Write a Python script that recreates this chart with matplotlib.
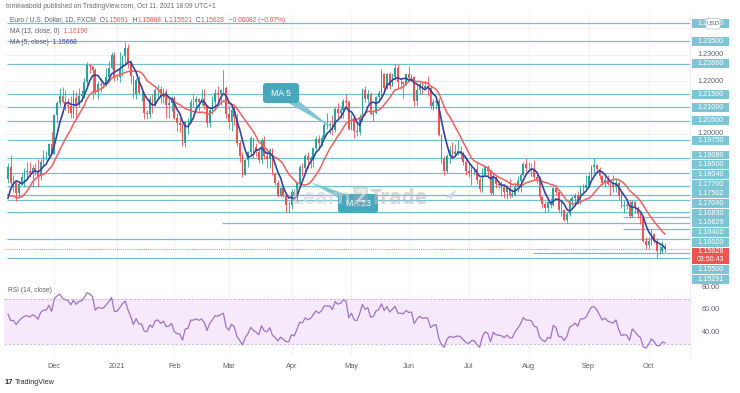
import numpy as np
import pandas as pd
import matplotlib
matplotlib.use("Agg")
import matplotlib.pyplot as plt
from matplotlib.patches import Rectangle, FancyBboxPatch, Polygon
from matplotlib.transforms import IdentityTransform

# ------------------------------------------------------------------ data
start_date = "2020-11-06"
end_date = "2021-10-11"

# closes used only to warm up the indicators (Sep 24 - Nov 5 2020), pips
warmup_closes = [11670, 11630, 11665, 11745, 11720, 11750, 11715, 11780, 11735, 11760,
                 11765, 11825, 11815, 11745, 11745, 11705, 11720, 11770, 11820, 11860,
                 11815, 11860, 11810, 11795, 11745, 11675, 11645, 11640, 11715, 11720, 11830]

closes = [
    11875, 11815, 11815, 11775, 11810, 11835, 11855, 11860, 11850, 11870, 11860, 11840, 11895, 11915, 11915, 11960, 11925,
    12070, 12115, 12145, 12120, 12110, 12105, 12080, 12135, 12110, 12145, 12150, 12195, 12260, 12255, 12240, 12160, 12190, 12185, 12185, 12215, 12250, 12300, 12215,
    12215, 12250, 12295, 12325, 12270, 12220, 12150, 12205, 12155, 12155, 12080, 12075, 12130, 12105, 12165, 12170, 12140, 12160, 12110, 12115, 12135,
    12060, 12040, 12035, 11965, 12045, 12050, 12120, 12120, 12130, 12120, 12130, 12105, 12040, 12090, 12120, 12155, 12150, 12165, 12175, 12075,
    12045, 12090, 12065, 11965, 11915, 11845, 11900, 11930, 11985, 11950, 11930, 11900, 11975, 11915, 11905, 11940, 11850, 11815, 11765, 11795, 11765, 11730, 11730,
    11780, 11765, 11815, 11875, 11870, 11915, 11900, 11910, 11945, 11980, 11965, 11985, 12035, 12035, 12035, 12015, 12095, 12080, 12090, 12125, 12120, 12020,
    12060, 12010, 12005, 12065, 12165, 12130, 12150, 12075, 12080, 12140, 12155, 12225, 12175, 12225, 12180, 12215, 12250, 12195, 12195, 12190, 12225,
    12210, 12215, 12125, 12165, 12190, 12175, 12180, 12175, 12105, 12120, 12125, 11995, 11905, 11860, 11915, 11940, 11925, 11930, 11935, 11925, 11895, 11860,
    11850, 11865, 11865, 11825, 11790, 11845, 11875, 11860, 11775, 11835, 11810, 11805, 11800, 11780, 11795, 11770, 11770, 11800, 11820, 11845, 11885, 11870,
    11870, 11865, 11835, 11830, 11760, 11735, 11720, 11740, 11730, 11795, 11780, 11710, 11710, 11675, 11695, 11745, 11755, 11770, 11750, 11795, 11795, 11805,
    11840, 11875, 11880, 11865, 11840, 11815, 11825, 11810, 11805, 11800, 11815, 11765, 11725, 11730, 11725, 11690, 11740, 11720, 11695, 11680, 11595, 11580,
    11595, 11620, 11595, 11555, 11555, 11570, 11562.8,
]
highs = [
    11891, 11920, 11845, 11820, 11817, 11850, 11870, 11895, 11895, 11880, 11890, 11905, 11905, 11940, 11935, 11965, 12005,
    12075, 12125, 12175, 12178, 12165, 12135, 12145, 12165, 12160, 12175, 12165, 12210, 12273, 12270, 12255, 12250, 12200, 12210, 12195, 12250, 12275, 12310, 12310,
    12225, 12310, 12300, 12349, 12340, 12280, 12210, 12210, 12220, 12170, 12160, 12090, 12145, 12150, 12175, 12190, 12180, 12175, 12170, 12135, 12145,
    12145, 12080, 12065, 12040, 12050, 12060, 12130, 12150, 12145, 12135, 12170, 12170, 12110, 12095, 12145, 12170, 12180, 12170, 12243, 12180,
    12110, 12110, 12110, 12080, 11975, 11930, 11905, 11935, 11990, 11985, 11965, 11950, 11985, 11990, 11945, 11945, 11945, 11850, 11825, 11800, 11800, 11775, 11745,
    11790, 11790, 11820, 11880, 11890, 11925, 11930, 11915, 11950, 11990, 11995, 11995, 12050, 12080, 12045, 12070, 12100, 12115, 12105, 12130, 12150, 12125,
    12075, 12065, 12040, 12075, 12175, 12180, 12165, 12160, 12090, 12145, 12165, 12245, 12230, 12230, 12235, 12230, 12266, 12265, 12205, 12200, 12230,
    12255, 12225, 12220, 12185, 12195, 12195, 12200, 12220, 12180, 12130, 12135, 12135, 12000, 11915, 11925, 11955, 11970, 11960, 11975, 11955, 11935, 11905,
    11895, 11880, 11870, 11895, 11835, 11870, 11880, 11880, 11865, 11850, 11845, 11820, 11820, 11805, 11805, 11830, 11790, 11815, 11840, 11850, 11895, 11909,
    11895, 11890, 11900, 11850, 11840, 11765, 11745, 11745, 11755, 11800, 11805, 11785, 11745, 11715, 11705, 11755, 11765, 11775, 11785, 11805, 11810, 11845,
    11855, 11880, 11909, 11885, 11875, 11845, 11845, 11845, 11815, 11845, 11830, 11820, 11780, 11750, 11745, 11750, 11750, 11745, 11725, 11700, 11685, 11610,
    11610, 11640, 11625, 11605, 11580, 11595, 11587,
]
lows = [
    11815, 11803, 11780, 11745, 11760, 11805, 11800, 11825, 11835, 11800, 11845, 11800, 11825, 11880, 11900, 11905, 11925,
    11925, 12040, 12105, 12115, 12090, 12080, 12060, 12060, 12060, 12100, 12125, 12135, 12185, 12230, 12130, 12150, 12130, 12160, 12175, 12180, 12205, 12245, 12200,
    12205, 12195, 12220, 12265, 12250, 12190, 12135, 12130, 12150, 12125, 12055, 12055, 12060, 12080, 12105, 12130, 12115, 12115, 12060, 12060, 12085,
    12055, 12010, 12005, 11955, 11950, 12000, 12040, 12100, 12100, 12085, 12110, 12095, 12025, 12025, 12075, 12090, 12120, 12110, 12160, 12060,
    12020, 12010, 12035, 11955, 11895, 11835, 11845, 11875, 11920, 11910, 11915, 11890, 11885, 11905, 11870, 11870, 11845, 11805, 11760, 11760, 11760, 11705, 11704,
    11715, 11745, 11740, 11810, 11840, 11860, 11870, 11870, 11875, 11940, 11950, 11955, 11985, 12020, 12000, 11995, 12005, 12060, 12060, 12060, 12105, 12015,
    12015, 11985, 11990, 11995, 12050, 12120, 12115, 12070, 12050, 12075, 12120, 12145, 12160, 12170, 12170, 12180, 12205, 12175, 12170, 12135, 12185,
    12200, 12195, 12105, 12105, 12150, 12150, 12170, 12145, 12095, 12090, 12095, 11990, 11890, 11845, 11850, 11890, 11905, 11915, 11920, 11905, 11880, 11845,
    11835, 11805, 11845, 11810, 11780, 11780, 11840, 11835, 11770, 11770, 11795, 11795, 11765, 11755, 11752, 11755, 11760, 11765, 11780, 11780, 11840, 11855,
    11865, 11840, 11825, 11815, 11750, 11720, 11705, 11705, 11720, 11725, 11770, 11705, 11690, 11670, 11664, 11690, 11725, 11725, 11735, 11735, 11780, 11795,
    11800, 11830, 11850, 11855, 11830, 11805, 11800, 11805, 11770, 11780, 11780, 11750, 11720, 11700, 11715, 11680, 11685, 11700, 11680, 11660, 11590, 11565,
    11565, 11580, 11585, 11529, 11545, 11550, 11552,
]

levels = [1.24180, 1.23500, 1.22660, 1.21500, 1.21000, 1.20500, 1.19750, 1.19080, 1.18500,
          1.18040, 1.17700, 1.17502, 1.17040, 1.16830, 1.16629, 1.16400, 1.16020, 1.15500, 1.15291]
level_starts = ["2020-11-06", "2020-11-06", "2020-11-06", "2020-11-06", "2020-11-06", "2020-11-06",
                "2020-11-06", "2020-11-06", "2020-11-06", "2020-11-06", "2020-11-06", "2020-11-06",
                "2020-11-06", "2021-09-20", "2021-02-25", "2021-09-20", "2020-11-06", "2021-08-04", "2020-11-06"]

month_labels = ["Dec", "2021", "Feb", "Mar", "Apr", "May", "Jun", "Jul", "Aug", "Sep", "Oct"]
price_ticks = [1.16, 1.17, 1.18, 1.19, 1.20, 1.21, 1.22, 1.23, 1.24]
rsi_ticks = [40, 60, 80]

publish_text = "tomkwabold published on TradingView.com, Oct 11, 2021 18:09 UTC+1"
symbol_text = "Euro / U.S. Dollar, 1D, FXCM"
ohlc_text = [("O", "1.15691"), ("H", "1.15868"), ("L", "1.15521"), ("C", "1.15628")]
change_text = "\u22120.00082 (\u22120.07%)"
ma13_text, ma13_val = "MA (13, close, 0)", "1.16196"
ma5_text, ma5_val = "MA (5, close)", "1.15668"
rsi_text, rsi_val = "RSI (14, close)", "32.14"
countdown = "03:50:43"
ma5_callout_date = "2021-04-22"
ma13_callout_date = "2021-04-12"

# ------------------------------------------------------------------ style
UP, DN = "#26a69a", "#ef5350"
MA13_C, MA5_C = "#f0615c", "#3543a3"
LEVEL_C = "#72bfd0"
LABEL_BG = "#7cc5d5"
RSI_C = "#9f72cc"
TXT = "#5d606b"
GRID = "#f0f2f7"
CALL_BOX, CALL_WEDGE = "#47a8bc", "#7fc4d3"

plt.rcParams["font.family"] = ["Liberation Sans", "DejaVu Sans"]

W, H = 740, 393
fig = plt.figure(figsize=(W / 100, H / 100), dpi=100)
fig.patch.set_facecolor("white")
ID = IdentityTransform()

PL, PR = 4, 690
P_TOP, P_BOT, R_BOT = 14, 270, 357
X_FIRST, X_LAST = 8, 665
LBL_L, LBL_R = 692, 729


def rect(l, t, r, b):
    return [l / W, 1 - b / H, (r - l) / W, (b - t) / H]


ax = fig.add_axes(rect(PL, P_TOP, PR, P_BOT))
axr = fig.add_axes(rect(PL, P_BOT, PR, R_BOT))

dates = pd.bdate_range(start_date, end_date)
n = len(dates)
assert len(closes) == len(highs) == len(lows) == n, (len(closes), len(highs), len(lows), n)

step = (X_LAST - X_FIRST) / (n - 1)
xmin = -(X_FIRST - PL) / step
xmax = xmin + (PR - PL) / step
for a in (ax, axr):
    a.set_xlim(xmin, xmax)
    a.set_facecolor("white")
    for s in a.spines.values():
        s.set_visible(False)
    a.set_xticks([])
    a.set_yticks([])
ax.set_ylim(1.14841, 1.24538)
axr.set_ylim(19.1, 94.8)

c = np.array(closes, dtype=float) / 1e4
h = np.array(highs, dtype=float) / 1e4
l = np.array(lows, dtype=float) / 1e4
o = np.concatenate([[warmup_closes[-1] / 1e4], c[:-1]])
idx = np.arange(n)

allc = pd.Series(np.concatenate([np.array(warmup_closes, dtype=float) / 1e4, c]))
ma13 = allc.rolling(13).mean().values[-n:]
ma5 = allc.rolling(5).mean().values[-n:]
d = allc.diff()
gain = d.clip(lower=0).ewm(alpha=1 / 14, adjust=False).mean()
loss = (-d.clip(upper=0)).ewm(alpha=1 / 14, adjust=False).mean()
rsi = (100 - 100 / (1 + gain / loss)).values[-n:]

per = dates.to_period("M")
firsts = [i for i in range(1, n) if per[i] != per[i - 1]]

# grid
for a in (ax, axr):
    for i in firsts:
        a.axvline(i, color=GRID, lw=0.7, zorder=0)
for v in price_ticks:
    ax.axhline(v, color=GRID, lw=0.7, zorder=0)

# level lines
for lv, sd in zip(levels, level_starts):
    s = dates.get_loc(pd.Timestamp(sd)) - 0.4
    ax.hlines(lv, s, xmax, colors=LEVEL_C, lw=0.9, zorder=2)

# current price line
ax.axhline(c[-1], color=DN, lw=0.6, ls=(0, (1, 1.5)), zorder=2)

# candles
up = c >= o
col = np.where(up, UP, DN)
ax.vlines(idx, l, h, colors=col, lw=0.6, zorder=3)
body = np.maximum(np.abs(c - o), 0.00006)
ax.bar(idx, body, bottom=np.minimum(o, c), width=0.62, color=col, lw=0, zorder=4)

# moving averages
ax.plot(idx, ma13, color=MA13_C, lw=1.1, zorder=5)
ax.plot(idx, ma5, color=MA5_C, lw=1.2, zorder=6)

# RSI pane
axr.axhspan(30, 70, color="#f5e9fb", lw=0, zorder=0)
for v in (30, 70):
    axr.axhline(v, color="#c9b3d8", lw=0.6, ls=(0, (3, 2)), zorder=1)
axr.plot(idx, rsi, color=RSI_C, lw=0.9, zorder=3)


def to_px(a, x, y):
    X, Y = a.transData.transform((x, y))
    return X, H - Y


def ftext(x, y, s, **kw):
    return fig.text(x / W, 1 - y / H, s, **kw)


# separators
fig.add_artist(Rectangle((PL, H - P_BOT - 0.3), W - PL, 0.6, transform=ID, fc="#e3e6ee", ec="none", zorder=1))
fig.add_artist(Rectangle((PL, H - R_BOT - 0.3), W - PL, 0.6, transform=ID, fc="#e3e6ee", ec="none", zorder=1))
fig.add_artist(Rectangle((PR, H - R_BOT), 0.6, R_BOT - P_TOP, transform=ID, fc="#eceef3", ec="none", zorder=1))


# stacked price labels
def stack(centers, heights):
    clusters = [[i] for i in range(len(centers))]

    def place(cl):
        offs, acc = [], 0.0
        for i in cl:
            offs.append(acc + heights[i] / 2)
            acc += heights[i]
        top = np.mean([centers[i] - of for i, of in zip(cl, offs)])
        return top, acc, offs

    merged = True
    while merged:
        merged = False
        for k in range(len(clusters) - 1):
            t1, h1, _ = place(clusters[k])
            t2, _, _ = place(clusters[k + 1])
            if t1 + h1 > t2 + 0.01:
                clusters[k] = clusters[k] + clusters[k + 1]
                del clusters[k + 1]
                merged = True
                break
    out = [0.0] * len(centers)
    for cl in clusters:
        t, _, offs = place(cl)
        for i, of in zip(cl, offs):
            out[i] = t + of
    return out


entries = [dict(y=to_px(ax, 0, lv)[1], h=9.7, lines=[f"{lv:.5f}"], bg=LABEL_BG) for lv in levels]
entries.append(dict(y=to_px(ax, 0, c[-1])[1], h=17.5, lines=[f"{c[-1]:.5f}", countdown], bg=DN))
entries.sort(key=lambda e: e["y"])
centers = stack([e["y"] for e in entries], [e["h"] for e in entries])
boxes = []
for e, cy in zip(entries, centers):
    top, bot = cy - e["h"] / 2, cy + e["h"] / 2
    boxes.append((top, bot))
    fig.add_artist(Rectangle((LBL_L, H - (bot - 0.4)), LBL_R - LBL_L, e["h"] - 0.8,
                             transform=ID, fc=e["bg"], ec="none", zorder=5))
    if len(e["lines"]) == 1:
        ftext((LBL_L + LBL_R) / 2, cy, e["lines"][0], ha="center", va="center", fontsize=5.2,
              color="white", zorder=6)
    else:
        ftext((LBL_L + LBL_R) / 2, cy - 4.0, e["lines"][0], ha="center", va="center", fontsize=5.2,
              color="white", zorder=6)
        ftext((LBL_L + LBL_R) / 2, cy + 4.0, e["lines"][1], ha="center", va="center", fontsize=5.0,
              color="white", zorder=6)


def covered(y):
    return any(t - 1.5 <= y <= b + 1.5 for t, b in boxes)


# axis tick labels (hidden where a price label covers them)
for v in price_ticks:
    y = to_px(ax, 0, v)[1]
    if P_TOP + 3 < y < P_BOT - 3 and not covered(y):
        ftext(710.5, y, f"{v:.5f}", ha="center", va="center", fontsize=5.2, color=TXT, zorder=2)
for v in rsi_ticks:
    y = to_px(axr, 0, v)[1]
    ftext(710.5, y, f"{v:.2f}", ha="center", va="center", fontsize=5.2, color=TXT, zorder=2)
for lab, i in zip(month_labels, firsts):
    x = to_px(ax, i, 1.2)[0]
    ftext(x, 366, lab, ha="center", va="center", fontsize=5.3, color=TXT)

# USD badge
fig.add_artist(FancyBboxPatch((706, H - 29), 14, 10.5, boxstyle="round,pad=0,rounding_size=1.5",
                              transform=ID, fc="white", ec="#c5c8d0", lw=0.6, zorder=7))
ftext(713, 23.8, "USD", ha="center", va="center", fontsize=4.4, color=TXT, zorder=8)

# header legend
ftext(6, 7, publish_text, ha="left", va="center", fontsize=4.8, color="#6a6d78", zorder=10)


def chain(x, y, parts, size):
    t = ftext(x, y, parts[0][0], ha="left", va="center", fontsize=size, color=parts[0][1], zorder=10)
    for s, colr in parts[1:]:
        t = ax.annotate(s, xy=(1, 0.5), xycoords=t, ha="left", va="center", fontsize=size,
                        color=colr, annotation_clip=False, zorder=10)
    return t


parts = [(symbol_text, TXT)]
for k, v in ohlc_text:
    parts += [("  " + k, TXT), (v, DN)]
parts += [("  " + change_text, DN)]
chain(10, 20, parts, 4.8)
chain(10, 31.5, [(ma13_text, TXT), ("  " + ma13_val, MA13_C)], 4.8)
chain(10, 42, [(ma5_text, TXT), ("  " + ma5_val, MA5_C)], 4.8)
chain(8, 291, [(rsi_text, TXT), ("  " + rsi_val, RSI_C)], 4.8)


# callouts
def callout(text, bx0, by0, bx1, by1, tip_idx, tip_val):
    tx, ty = to_px(ax, tip_idx, tip_val)
    cx, cy = (bx0 + bx1) / 2, (by0 + by1) / 2
    dx, dy = tx - cx, ty - cy
    L = np.hypot(dx, dy)
    nx, ny = -dy / L * 5, dx / L * 5
    poly = [(cx + nx, H - (cy + ny)), (cx - nx, H - (cy - ny)), (tx, H - ty)]
    fig.add_artist(Polygon(poly, closed=True, transform=ID, fc=CALL_WEDGE, ec="none", zorder=7))
    fig.add_artist(FancyBboxPatch((bx0, H - by1), bx1 - bx0, by1 - by0,
                                  boxstyle="round,pad=0,rounding_size=3", transform=ID,
                                  fc=CALL_BOX, ec="none", zorder=8))
    ftext(cx, cy, text, ha="center", va="center", fontsize=6.3, color="white", zorder=9)


i5 = dates.get_loc(pd.Timestamp(ma5_callout_date))
i13 = dates.get_loc(pd.Timestamp(ma13_callout_date))
callout("MA 5", 263, 83, 299, 103, i5, ma5[i5])
callout("MA 13", 338, 194, 378, 213, i13, ma13[i13])

# watermark (faint, lets the callout show through)
wm_font = ["Open Sans", "DejaVu Sans"]
ftext(351, 199, "Learn", ha="right", va="center", fontsize=15, fontweight="bold",
      color="#cfd2d6", alpha=0.6, zorder=11, family=wm_font)
fig.add_artist(FancyBboxPatch((353, H - 207), 15, 21, boxstyle="round,pad=0,rounding_size=2",
                              transform=ID, fc="#a9adb2", ec="none", alpha=0.4, zorder=11))
ftext(360.5, 197, "2", ha="center", va="center", fontsize=13, fontweight="bold", color="white",
      alpha=0.55, zorder=12, family=wm_font)
ftext(370, 199, "Trade", ha="left", va="center", fontsize=15, fontweight="bold",
      color="#b9bcc1", alpha=0.6, zorder=11, family=wm_font)
fig.add_artist(Polygon([(445, H - 197), (457, H - 189), (452, H - 199)], closed=True, transform=ID,
                       fc="#c5dbe6", ec="none", alpha=0.8, zorder=11))

# TradingView footer
ftext(5, 383, "17", ha="left", va="center", fontsize=5.5, fontweight="bold", color="#2a2e39")
ftext(15, 383, "TradingView", ha="left", va="center", fontsize=5.2, color="#2a2e39")

fig.savefig("out.png", dpi=100)
